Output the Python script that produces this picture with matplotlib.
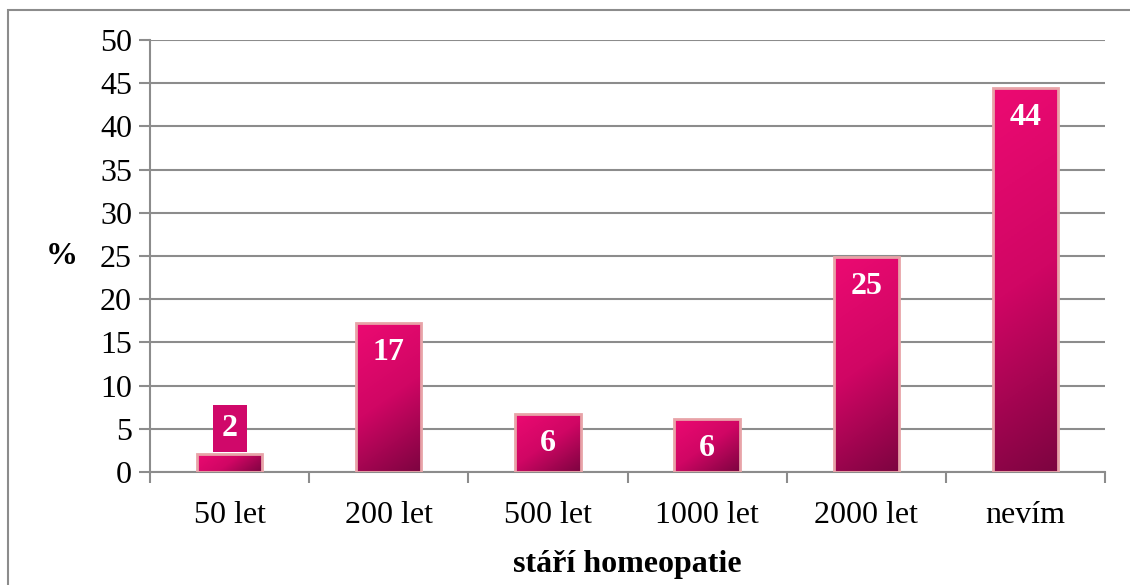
import numpy as np
import matplotlib
matplotlib.use("Agg")
import matplotlib.pyplot as plt
from matplotlib.colors import LinearSegmentedColormap
from matplotlib.patches import Rectangle

categories = ["50 let", "200 let", "500 let", "1000 let", "2000 let", "nevím"]
values = [2.1, 17.2, 6.7, 6.1, 24.9, 44.4]
labels = ["2", "17", "6", "6", "25", "44"]

plt.rcParams['font.family'] = ['Liberation Serif', 'DejaVu Serif']
fs = 23

fig = plt.figure(figsize=(11.3, 5.85), dpi=100)
ax = fig.add_axes([150/1130, 113/585, 955/1130, 432/585])

grid_col = '#8c8c8c'
ax.set_xlim(-0.5, 5.5)
ax.set_ylim(0, 50)
ax.set_yticks(range(0, 51, 5))
ax.yaxis.grid(True, color=grid_col, linewidth=1.5)
ax.set_axisbelow(True)
for s in ['top', 'right']:
    ax.spines[s].set_visible(False)
for s in ['left', 'bottom']:
    ax.spines[s].set_color(grid_col)
    ax.spines[s].set_linewidth(1.5)

x = np.arange(len(categories))
ax.set_xticks(x)
ax.set_xticklabels(categories)
ax.set_xticks(np.arange(-0.5, 6, 1), minor=True)
ax.tick_params(axis='x', which='major', length=0, pad=21, labelsize=fs)
ax.tick_params(axis='x', which='minor', length=8, width=1.5, color=grid_col)
ax.tick_params(axis='y', length=8, width=1.5, color=grid_col, labelsize=fs, pad=5)

bars = ax.bar(x, values, width=0.41, color='none', edgecolor='#e8a3a8', linewidth=2, zorder=3)

# gradient fill: light pink at top-left, dark maroon at bottom-right
cmap = LinearSegmentedColormap.from_list('pk', ['#ec0a72', '#d00664', '#7c0440'])
fig.canvas.draw()
for b in bars:
    x0, y0 = b.get_x(), b.get_y()
    w, h = b.get_width(), b.get_height()
    p0 = ax.transData.transform((x0, y0))
    p1 = ax.transData.transform((x0 + w, y0 + h))
    wp, hp = abs(p1[0] - p0[0]), abs(p1[1] - p0[1])
    u = np.linspace(0, 1, 200)[None, :]
    r = np.linspace(0, 1, 200)[:, None]
    t = (0.7 * u * wp + r * hp) / (0.7 * wp + hp)
    im = ax.imshow(t, cmap=cmap, vmin=0, vmax=1, extent=(x0, x0 + w, y0, y0 + h),
                   origin='upper', aspect='auto', zorder=2)
    im.set_clip_path(b)

ax.set_xlim(-0.5, 5.5)
ax.set_ylim(0, 50)

for i, (v, lab) in enumerate(zip(values, labels)):
    if v < 5:
        ax.text(i, 5.0, lab, ha='center', va='center', color='white',
                fontsize=fs, fontweight='bold', zorder=4,
                bbox=dict(boxstyle='square,pad=0.28', fc='#d0086a', ec='none'))
    else:
        ax.text(i, v - 1.7, lab, ha='center', va='top', color='white',
                fontsize=fs, fontweight='bold', zorder=4)

ax.set_ylabel('%', rotation=0, fontsize=fs, fontweight='bold', va='center')
ax.yaxis.set_label_coords(-0.092, 0.5)
ax.set_xlabel('stáří homeopatie', fontsize=fs, fontweight='bold', labelpad=14)

fig.patches.append(Rectangle((8/1130, -0.1), 1.2, 1.1 - 10/585, transform=fig.transFigure,
                             fill=False, edgecolor='#8c8c8c', linewidth=1.5))

fig.savefig('out.png', dpi=100)
